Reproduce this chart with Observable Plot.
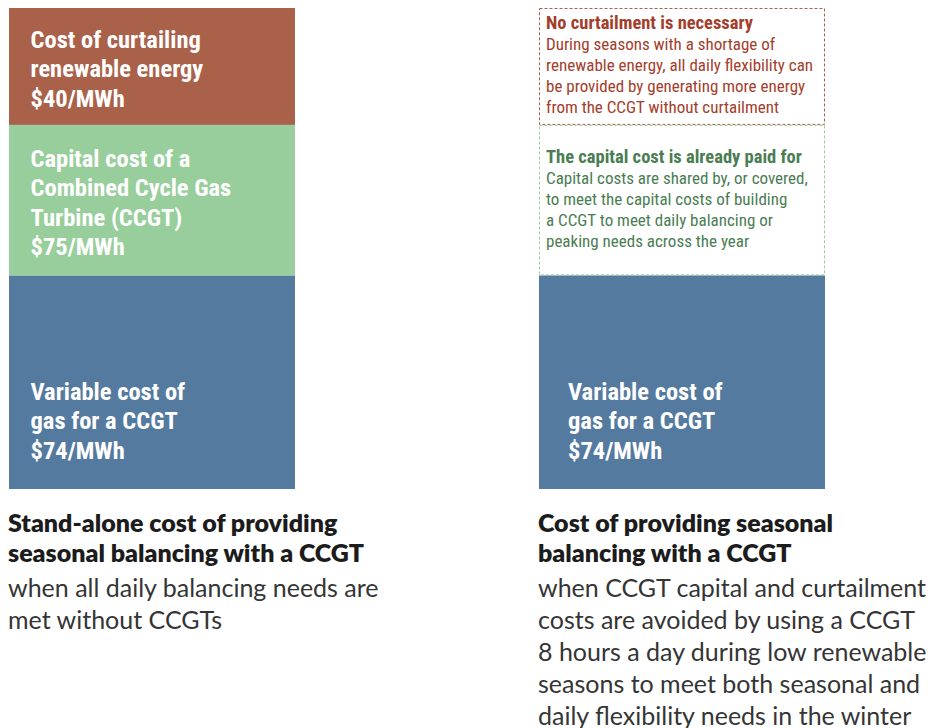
<!DOCTYPE html>
<html>
<head>
<meta charset="utf-8">
<script src="https://cdn.jsdelivr.net/npm/d3@7"></script>
<script src="https://cdn.jsdelivr.net/npm/@observablehq/plot@0.6"></script>
<style>
  html, body { margin: 0; padding: 0; background: #fff; }
  #wrap { position: relative; width: 933px; height: 728px; overflow: hidden; }
  #chart { position: absolute; left: 0; top: 0; }
  #chart svg text { font-stretch: condensed; }
  .cap { position: absolute; top: 507px; font-family: Lato, sans-serif; font-size: 25px; line-height: 32px; color: #353535; white-space: pre-line; }
  .cap b { display: block; font-weight: 800; color: #1c1c1c; line-height: 30px; margin-bottom: 4px; }
</style>
</head>
<body>
<div id="wrap">
  <div id="chart"></div>
  <div class="cap" id="cap0" style="left:8px; width:420px;"></div>
  <div class="cap" id="cap1" style="left:538px; width:395px;"></div>
</div>
<script>
// ---- data ----
const scenarios = ["Stand-alone", "Shared"];
const components = ["Variable cost of gas", "Capital cost of a CCGT", "Cost of curtailing renewable energy"];
const costs = [74, 75, 40]; // $/MWh
const labels = [
  "Variable cost of\ngas for a CCGT\n$74/MWh",
  "Capital cost of a\nCombined Cycle Gas\nTurbine (CCGT)\n$75/MWh",
  "Cost of curtailing\nrenewable energy\n$40/MWh"
];
const avoidedInShared = [false, true, true];
const componentColors = ["#557aa0", "#97ce9b", "#a9614a"];
const annotationColors = [null, "#4a7d52", "#a43d2b"];
const annotationTitles = [null, "The capital cost is already paid for", "No curtailment is necessary"];
const annotationBodies = [
  null,
  "Capital costs are shared by, or covered,\nto meet the capital costs of building\na CCGT to meet daily balancing or\npeaking needs across the year",
  "During seasons with a shortage of\nrenewable energy, all daily flexibility can\nbe provided by generating more energy\nfrom the CCGT without curtailment"
];
const captionTitles = [
  "Stand-alone cost of providing\nseasonal balancing with a CCGT",
  "Cost of providing seasonal\nbalancing with a CCGT"
];
const captionBodies = [
  "when all daily balancing needs are\nmet without CCGTs",
  "when CCGT capital and curtailment\ncosts are avoided by using a CCGT\n8 hours a day during low renewable\nseasons to meet both seasonal and\ndaily flexibility needs in the winter"
];
// The infographic draws its segments not to scale; visual share of each segment's height:
const segmentDisplayShare = [0.444, 0.313, 0.243];

// ---- build table ----
const cum = [0, ...d3.cumsum(costs)];
const rows = [];
scenarios.forEach((s, i) => {
  components.forEach((c, j) => {
    rows.push({
      scenario: s, component: c, value: costs[j],
      y1: cum[j], y2: cum[j + 1], ymid: (cum[j] + cum[j + 1]) / 2,
      avoided: i === 1 && avoidedInShared[j],
      label: labels[j],
      annTitle: annotationTitles[j], annBody: annotationBodies[j], annColor: annotationColors[j]
    });
  });
});

const W = 933, H = 497, mT = 8, mB = 8;
const shareCum = [0, ...d3.cumsum(segmentDisplayShare)];
// piecewise cost-to-height mapping, as in the original (not-to-scale) infographic
const costToShare = d3.scaleLinear().domain(cum).range(shareCum);

const condensed = 'Roboto, sans-serif';
const filled = rows.filter(d => !d.avoided);
const avoided = rows.filter(d => d.avoided);
const labelOpts = {x: "scenario", y: "ymid", text: "label", fill: "white", textAnchor: "start",
  lineAnchor: "middle", lineHeight: 1.2, fontSize: 24.5, fontWeight: "bold", fontFamily: condensed};

const marks = [
  Plot.barY(filled, {x: "scenario", y1: "y1", y2: "y2", fill: "component"}),
  Plot.barY(avoided, {x: "scenario", y1: "y1", y2: "y2", fill: "white", stroke: "component", strokeDasharray: "3,2", strokeWidth: 1, insetLeft: 0.5, insetRight: 0.5, insetTop: 0.5, insetBottom: 0.5}),
  Plot.text(filled.filter(d => d.component !== components[0]), {...labelOpts, dx: -122, dy: 1}),
  Plot.text(filled.filter(d => d.component === components[0] && d.scenario === scenarios[0]), {...labelOpts, dx: -122, dy: 37}),
  Plot.text(filled.filter(d => d.component === components[0] && d.scenario === scenarios[1]), {...labelOpts, dx: -114.5, dy: 37}),
  ...avoided.flatMap(d => [
    Plot.text([d], {x: "scenario", y: "ymid", text: "annTitle", fill: d.annColor, textAnchor: "start", dx: -136.5, dy: -44,
      lineAnchor: "middle", fontSize: 18.5, fontWeight: "bold", fontFamily: condensed}),
    Plot.text([d], {x: "scenario", y: "ymid", text: "annBody", fill: d.annColor, textAnchor: "start", dx: -136.5, dy: 8,
      lineAnchor: "middle", lineHeight: 1.235, fontSize: 17, fontFamily: condensed})
  ])
];

const chart = Plot.plot({
  width: W, height: H,
  marginLeft: 8, marginRight: 107, marginTop: mT, marginBottom: mB,
  x: {domain: scenarios, axis: null, paddingInner: 0.4595, paddingOuter: 0},
  y: {domain: [0, 1], transform: costToShare, axis: null},
  color: {domain: components, range: componentColors},
  marks
});
document.getElementById("chart").appendChild(chart);

captionTitles.forEach((t, i) => {
  const el = document.getElementById("cap" + i);
  const b = document.createElement("b");
  b.textContent = t;
  el.appendChild(b);
  el.appendChild(document.createTextNode(captionBodies[i]));
});
</script>
</body>
</html>
